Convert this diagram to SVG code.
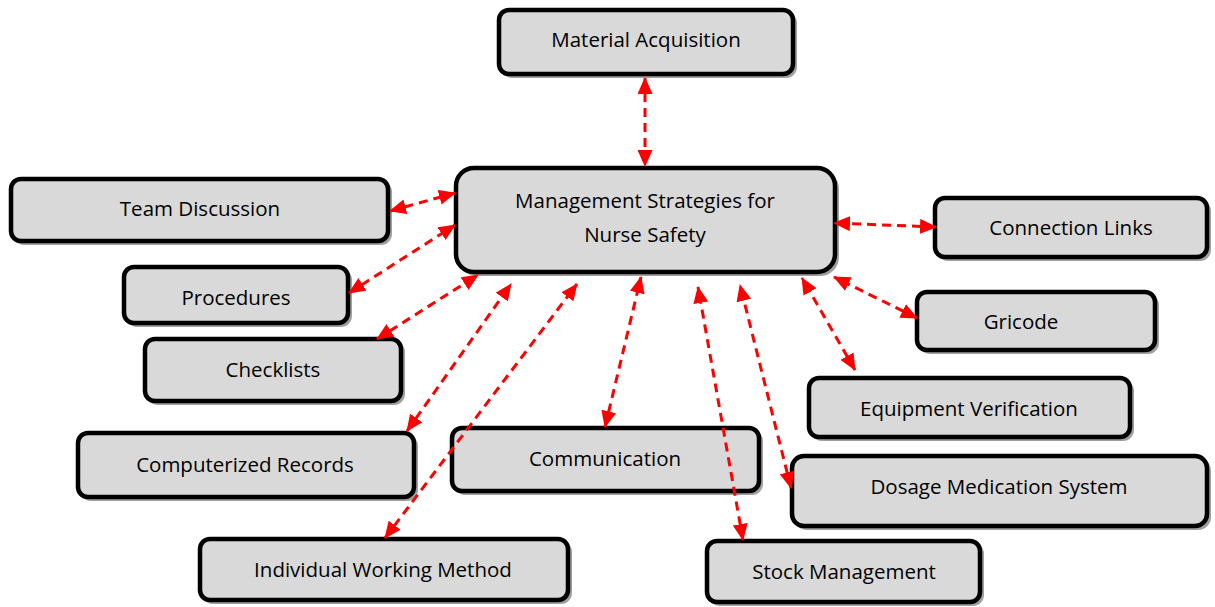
<svg xmlns="http://www.w3.org/2000/svg" width="1215" height="607" viewBox="0 0 1215 607">
<defs>
<style>
.shadow{fill:#a0a0a0;stroke:#a0a0a0;stroke-width:2}
.box{fill:#d9d9d9;stroke:#000;stroke-width:4.5}
.lbl{font-family:"Open Sans","Liberation Sans",Arial,sans-serif;font-size:20.5px;fill:#000;text-anchor:middle;dominant-baseline:central}
.conn{stroke:#ff0000;stroke-width:3;stroke-dasharray:9,6;fill:none;marker-start:url(#ah);marker-end:url(#ah)}
</style>
<marker id="ah" viewBox="0 0 17 15" refX="16" refY="7.5" markerWidth="17" markerHeight="15" markerUnits="userSpaceOnUse" orient="auto-start-reverse">
<path d="M0,0 L17,7.5 L0,15 Z" fill="#ff0000"/>
</marker>
</defs>
<g id="n-material">
<rect class="shadow" x="502" y="13" width="294" height="64" rx="10"/>
<rect class="box" x="499" y="10" width="294" height="64" rx="10"/>
<text class="lbl" x="646" y="39">Material Acquisition</text>
</g>
<g id="n-central">
<rect class="shadow" x="459" y="171" width="379" height="104" rx="18"/>
<rect class="box" x="456" y="168" width="379" height="104" rx="18"/>
<text class="lbl" x="645" y="200">Management Strategies for</text>
<text class="lbl" x="645" y="234">Nurse Safety</text>
</g>
<g id="n-team">
<rect class="shadow" x="14" y="182" width="377" height="62" rx="10"/>
<rect class="box" x="11" y="179" width="377" height="62" rx="10"/>
<text class="lbl" x="200" y="208">Team Discussion</text>
</g>
<g id="n-connection">
<rect class="shadow" x="938" y="201" width="272" height="59" rx="10"/>
<rect class="box" x="935" y="198" width="272" height="59" rx="10"/>
<text class="lbl" x="1071" y="227">Connection Links</text>
</g>
<g id="n-procedures">
<rect class="shadow" x="127" y="270" width="224" height="56" rx="10"/>
<rect class="box" x="124" y="267" width="224" height="56" rx="10"/>
<text class="lbl" x="236" y="297">Procedures</text>
</g>
<g id="n-gricode">
<rect class="shadow" x="920" y="295" width="238" height="58" rx="10"/>
<rect class="box" x="917" y="292" width="238" height="58" rx="10"/>
<text class="lbl" x="1021" y="321">Gricode</text>
</g>
<g id="n-checklists">
<rect class="shadow" x="148" y="342" width="256" height="62" rx="10"/>
<rect class="box" x="145" y="339" width="256" height="62" rx="10"/>
<text class="lbl" x="273" y="369">Checklists</text>
</g>
<g id="n-equipment">
<rect class="shadow" x="812" y="381" width="321" height="59" rx="10"/>
<rect class="box" x="809" y="378" width="321" height="59" rx="10"/>
<text class="lbl" x="969" y="408">Equipment Verification</text>
</g>
<g id="n-computerized">
<rect class="shadow" x="81" y="436" width="336" height="64" rx="10"/>
<rect class="box" x="78" y="433" width="336" height="64" rx="10"/>
<text class="lbl" x="245" y="464">Computerized Records</text>
</g>
<g id="n-communication">
<rect class="shadow" x="455" y="431" width="307" height="63" rx="10"/>
<rect class="box" x="452" y="428" width="307" height="63" rx="10"/>
<text class="lbl" x="605" y="458">Communication</text>
</g>
<g id="n-dosage">
<rect class="shadow" x="795" y="459" width="415" height="70" rx="12"/>
<rect class="box" x="792" y="456" width="415" height="70" rx="12"/>
<text class="lbl" x="999" y="486">Dosage Medication System</text>
</g>
<g id="n-individual">
<rect class="shadow" x="203" y="542" width="368" height="61" rx="10"/>
<rect class="box" x="200" y="539" width="368" height="61" rx="10"/>
<text class="lbl" x="383" y="569">Individual Working Method</text>
</g>
<g id="n-stock">
<rect class="shadow" x="710" y="544" width="273" height="61" rx="10"/>
<rect class="box" x="707" y="541" width="273" height="61" rx="10"/>
<text class="lbl" x="844" y="571">Stock Management</text>
</g>
<g id="connectors">
<line class="conn" x1="645" y1="78" x2="645" y2="166"/>
<line class="conn" x1="390" y1="211" x2="455" y2="193"/>
<line class="conn" x1="349" y1="293" x2="455" y2="225"/>
<line class="conn" x1="377" y1="339" x2="478" y2="275"/>
<line class="conn" x1="407" y1="431" x2="511" y2="284"/>
<line class="conn" x1="385" y1="538" x2="577" y2="284"/>
<line class="conn" x1="605" y1="427" x2="641" y2="277"/>
<line class="conn" x1="743" y1="540" x2="698" y2="287"/>
<line class="conn" x1="791" y1="488" x2="740" y2="285"/>
<line class="conn" x1="855" y1="370" x2="802" y2="278"/>
<line class="conn" x1="917" y1="318" x2="834" y2="277"/>
<line class="conn" x1="936" y1="227" x2="834" y2="223"/>
</g>
</svg>
